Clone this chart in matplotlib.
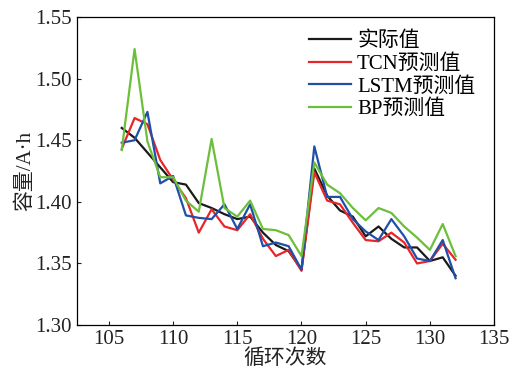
import matplotlib
matplotlib.use("Agg")
import matplotlib.pyplot as plt

plt.rcParams['font.family'] = ['Liberation Serif', 'Noto Sans CJK SC']

cycles = list(range(106, 133))
actual = [1.460, 1.452, 1.440, 1.428, 1.416, 1.414, 1.399, 1.395, 1.390, 1.386,
          1.388, 1.375, 1.365, 1.360, 1.345, 1.427, 1.405, 1.393, 1.388, 1.372,
          1.380, 1.370, 1.363, 1.363, 1.352, 1.355, 1.340]
tcn = [1.443, 1.468, 1.463, 1.434, 1.418, 1.403, 1.375, 1.394, 1.380, 1.377,
       1.390, 1.370, 1.356, 1.361, 1.344, 1.424, 1.401, 1.398, 1.383, 1.369,
       1.368, 1.375, 1.367, 1.350, 1.352, 1.366, 1.353]
lstm = [1.448, 1.450, 1.473, 1.415, 1.421, 1.389, 1.387, 1.386, 1.398, 1.378,
        1.398, 1.364, 1.367, 1.364, 1.345, 1.445, 1.404, 1.404, 1.386, 1.376,
        1.369, 1.386, 1.372, 1.354, 1.352, 1.369, 1.338]
bp = [1.442, 1.524, 1.449, 1.420, 1.420, 1.401, 1.392, 1.451, 1.395, 1.388,
      1.401, 1.378, 1.377, 1.373, 1.356, 1.432, 1.414, 1.407, 1.395, 1.385,
      1.395, 1.391, 1.380, 1.371, 1.361, 1.382, 1.356]

fig = plt.figure(figsize=(5.12, 3.78), dpi=100)
ax = fig.add_axes([0.150, 0.140, 0.815, 0.815])

ax.plot(cycles, actual, color='#1a1a1a', lw=1.6, label='实际值')
ax.plot(cycles, tcn, color='#e8262a', lw=1.6, label='TCN预测值')
ax.plot(cycles, lstm, color='#1f4fa8', lw=1.6, label='LSTM预测值')
ax.plot(cycles, bp, color='#6bbf3a', lw=1.6, label='BP预测值')

ax.set_xlim(102.5, 135)
ax.set_ylim(1.30, 1.55)
ax.set_xticks([105, 110, 115, 120, 125, 130, 135])
ax.set_yticks([1.30, 1.35, 1.40, 1.45, 1.50, 1.55])
ax.set_yticklabels(['1.30', '1.35', '1.40', '1.45', '1.50', '1.55'])
ax.tick_params(direction='in', length=3, labelsize=15, width=0.8, colors='#222222')
for s in ax.spines.values():
    s.set_linewidth(0.9)

ax.set_xlabel('循环次数', fontsize=15, labelpad=0, color='#222222')
ax.set_ylabel('容量/A·h', fontsize=15, labelpad=0, color='#222222')

ax.legend(loc='upper right', frameon=False, prop={'size': 15, 'weight': 'light'},
          handlelength=2.0, handletextpad=0.3, labelspacing=0.15,
          borderaxespad=0.3, bbox_to_anchor=(0.99, 1.0))

fig.savefig('out.png', dpi=100)
